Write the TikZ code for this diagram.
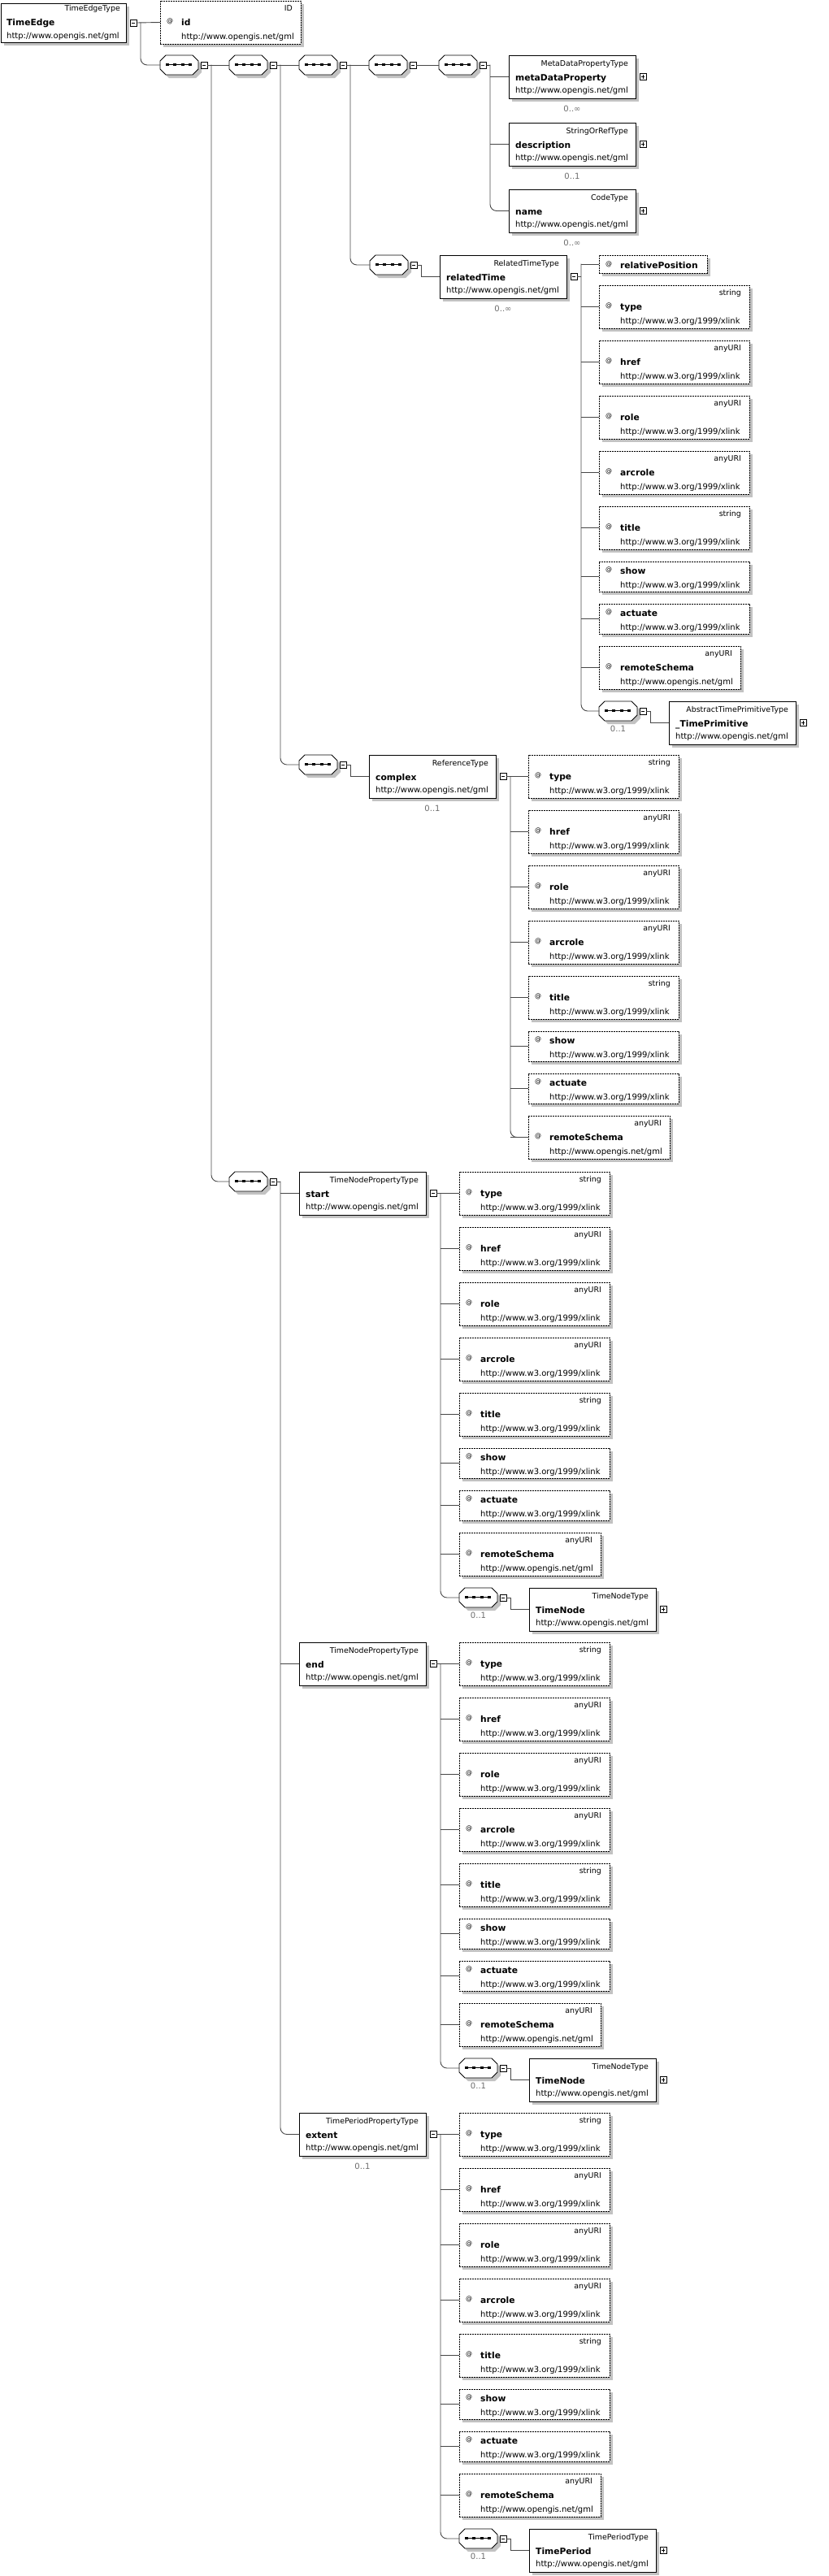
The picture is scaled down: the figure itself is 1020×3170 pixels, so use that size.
\documentclass[tikz,border=0pt]{standalone}
\usepackage{fontspec}
\setmainfont{DejaVu Sans}
\usetikzlibrary{shadows}
\definecolor{shd}{gray}{0.76}
\definecolor{lnc}{gray}{0.28}
\definecolor{mulc}{gray}{0.42}
\tikzset{
 boxbase/.style={draw=black, line width=0.9pt, fill=white, inner sep=0pt, outer sep=0pt,
   drop shadow={shadow xshift=4pt, shadow yshift=-4pt, fill=shd, opacity=1}},
 elshape/.style={boxbase, rectangle},
 atshape/.style={boxbase, rectangle, line width=1pt, dash pattern=on 1.7pt off 1.3pt},
 seqnode/.style={rectangle, inner sep=0pt, outer sep=0pt, minimum width=47pt, minimum height=24pt},
 pmbox/.style={draw=black, line width=0.7pt, fill=white, inner sep=0pt, outer sep=0pt, minimum size=8pt},
 conn/.style={draw=lnc, line width=0.9pt, line cap=rect},
 rc/.style={rounded corners=8pt},
 typetxt/.style={inner sep=0pt, font=\fontsize{9.4}{10}\selectfont},
 nametxt/.style={inner sep=0pt, font=\bfseries\fontsize{10.7}{12}\selectfont},
 urltxt/.style={inner sep=0pt, font=\fontsize{10}{11}\selectfont},
 attxt/.style={inner sep=0pt, font=\fontsize{8}{9}\selectfont},
 multxt/.style={inner sep=0pt, text=mulc, font=\fontsize{10}{11}\selectfont},
}
% element box: name, x, y, type, element name, url
\newcommand{\elbox}[6]{%
 \node[elshape, minimum width=156pt, minimum height=53pt, anchor=north west] (#1) at ({#2},{#3}) {};
 \path (#1.north east) ++(-9,13) node[typetxt, anchor=base east] (#1-t) {#4};
 \path (#1.north west) ++(8,31) node[nametxt, anchor=base west] (#1-n) {#5};
 \path (#1.north west) ++(8,46) node[urltxt, anchor=base west] (#1-u) {#6};
}
% attribute, three rows: name, x, y, width, type, attr name, url
\newcommand{\atc}[7]{%
 \node[atshape, minimum width=#4pt, minimum height=53pt, anchor=north west] (#1) at ({#2},{#3}) {};
 \path (#1.north east) ++(-10,12) node[typetxt, anchor=base east] (#1-t) {#5};
 \path (#1.north west) ++(8,27) node[attxt, anchor=base west] (#1-a) {@};
 \path (#1.north west) ++(26,30) node[nametxt, anchor=base west] (#1-n) {#6};
 \path (#1.north west) ++(26,47) node[urltxt, anchor=base west] (#1-u) {#7};
}
% attribute, two rows: name, x, y, width, attr name, url
\newcommand{\atb}[6]{%
 \node[atshape, minimum width=#4pt, minimum height=37pt, anchor=north west] (#1) at ({#2},{#3}) {};
 \path (#1.north west) ++(8,12) node[attxt, anchor=base west] (#1-a) {@};
 \path (#1.north west) ++(26,15) node[nametxt, anchor=base west] (#1-n) {#5};
 \path (#1.north west) ++(26,32) node[urltxt, anchor=base west] (#1-u) {#6};
}
% attribute, one row: name, x, y, width, attr name
\newcommand{\ata}[5]{%
 \node[atshape, minimum width=#4pt, minimum height=22pt, anchor=north west] (#1) at ({#2},{#3}) {};
 \path (#1.north west) ++(8,13) node[attxt, anchor=base west] (#1-a) {@};
 \path (#1.north west) ++(26,16) node[nametxt, anchor=base west] (#1-n) {#5};
}
% sequence compositor: name, x, y
\newcommand{\seqq}[3]{%
 \begin{scope}[shift={({#2},{#3})}]
 \fill[shd] (11,4)--(44,4)--(51,11)--(51,21)--(44,28)--(11,28)--(4,21)--(4,11)--cycle;
 \filldraw[fill=white, draw=black, line width=0.9pt] (7,0)--(40,0)--(47,7)--(47,17)--(40,24)--(7,24)--(0,17)--(0,7)--cycle;
 \draw[line width=0.9pt] (7,11.5)--(39,11.5);
 \foreach \q in {9,18,28,37} {\fill ({\q-1.8},9.7) rectangle ({\q+1.8},13.3);}
 \node[seqnode, anchor=north west] (#1) at (0,0) {};
 \end{scope}
}
% minus / plus boxes: name, owner, gap
\newcommand{\minusb}[3]{%
 \path (#2.east) ++(#3,0) node[pmbox, anchor=west] (#1) {};
 \draw[line width=0.8pt] ([xshift=1.8pt]#1.west) -- ([xshift=-1.8pt]#1.east);
 \coordinate (#1t) at ([xshift=5pt]#1.east);
}
\newcommand{\plusb}[3]{%
 \path (#2.east) ++(#3,0) node[pmbox, anchor=west] (#1) {};
 \draw[line width=0.8pt] ([xshift=1.8pt]#1.west) -- ([xshift=-1.8pt]#1.east);
 \draw[line width=0.8pt] ([yshift=1.8pt]#1.south) -- ([yshift=-1.8pt]#1.north);
}
% multiplicity label: name, owner, text, offset
\newcommand{\mult}[4]{%
 \node[multxt, anchor=base] (#1) at ([yshift=-#4pt]#2.south) {#3};
}
% xlink attribute group: prefix, x, y
\newcommand{\xlgroup}[3]{%
 \atc{#1type}{#2}{#3}{185}{string}{type}{http://www.w3.org/1999/xlink}
 \atc{#1href}{#2}{#3+68}{185}{anyURI}{href}{http://www.w3.org/1999/xlink}
 \atc{#1role}{#2}{#3+136}{185}{anyURI}{role}{http://www.w3.org/1999/xlink}
 \atc{#1arcrole}{#2}{#3+204}{185}{anyURI}{arcrole}{http://www.w3.org/1999/xlink}
 \atc{#1title}{#2}{#3+272}{185}{string}{title}{http://www.w3.org/1999/xlink}
 \atb{#1show}{#2}{#3+340}{185}{show}{http://www.w3.org/1999/xlink}
 \atb{#1actuate}{#2}{#3+392}{185}{actuate}{http://www.w3.org/1999/xlink}
 \atc{#1remoteSchema}{#2}{#3+444}{174}{anyURI}{remoteSchema}{http://www.opengis.net/gml}
}
\newcommand{\xlconn}[2]{%
 \foreach \s in {type,href,role,arcrole,title,show,actuate,remoteSchema} {\draw[conn] (#2 |- #1\s.west) -- (#1\s.west);}
}
\begin{document}
\begin{tikzpicture}[x=1pt,y=-1pt]
\useasboundingbox (0,0) rectangle (1020,3170);

% ---------- root ----------
\node[elshape, minimum width=154pt, minimum height=48pt, anchor=north west] (te) at (1,4) {};
\path (te.north east) ++(-7,9) node[typetxt, anchor=base east] (te-t) {TimeEdgeType};
\path (te.north west) ++(7,27) node[nametxt, anchor=base west] (te-n) {TimeEdge};
\path (te.north west) ++(7,43) node[urltxt, anchor=base west] (te-u) {http://www.opengis.net/gml};
\minusb{tem}{te}{5}
\atc{idat}{197}{1}{173}{ID}{id}{http://www.opengis.net/gml}

% ---------- sequence chain ----------
\seqq{seq1}{197}{68} \minusb{seq1m}{seq1}{3}
\seqq{seq2}{282}{68} \minusb{seq2m}{seq2}{3}
\seqq{seq3}{368}{68} \minusb{seq3m}{seq3}{3}
\seqq{seq4}{454}{68} \minusb{seq4m}{seq4}{3}
\seqq{seq5}{540}{68} \minusb{seq5m}{seq5}{3}

\elbox{mdp}{626}{68}{MetaDataPropertyType}{metaDataProperty}{http://www.opengis.net/gml} \plusb{mdpp}{mdp}{5}
\mult{mdpx}{mdp}{0..∞}{16}
\elbox{desc}{626}{151}{StringOrRefType}{description}{http://www.opengis.net/gml} \plusb{descp}{desc}{5}
\mult{descx}{desc}{0..1}{16}
\elbox{nm}{626}{233}{CodeType}{name}{http://www.opengis.net/gml} \plusb{nmp}{nm}{5}
\mult{nmx}{nm}{0..∞}{16}

% ---------- relatedTime ----------
\seqq{seqR}{455}{314} \minusb{seqRm}{seqR}{3}
\elbox{rt}{541}{314}{RelatedTimeType}{relatedTime}{http://www.opengis.net/gml} \minusb{rtm}{rt}{5}
\mult{rtx}{rt}{0..∞}{16}
\ata{rpos}{737}{314}{133}{relativePosition}
\xlgroup{rt}{737}{351}
\seqq{seqTP}{737}{863} \minusb{seqTPm}{seqTP}{3}
\mult{seqTPx}{seqTP}{0..1}{13.5}
\elbox{tp}{823}{863}{AbstractTimePrimitiveType}{\_TimePrimitive}{http://www.opengis.net/gml} \plusb{tpp}{tp}{5}

% ---------- complex ----------
\seqq{seqC}{368}{929} \minusb{seqCm}{seqC}{3}
\elbox{cx}{454}{929}{ReferenceType}{complex}{http://www.opengis.net/gml} \minusb{cxm}{cx}{5}
\mult{cxx}{cx}{0..1}{16}
\xlgroup{cx}{650}{929}

% ---------- start / end / extent ----------
\seqq{seqA}{282}{1442} \minusb{seqAm}{seqA}{3}

\elbox{st}{368}{1442}{TimeNodePropertyType}{start}{http://www.opengis.net/gml} \minusb{stm}{st}{5}
\xlgroup{st}{565}{1442}
\seqq{stseq}{565}{1954} \minusb{stseqm}{stseq}{3}
\mult{stseqx}{stseq}{0..1}{13.5}
\elbox{sttn}{651}{1954}{TimeNodeType}{TimeNode}{http://www.opengis.net/gml} \plusb{sttnp}{sttn}{5}

\elbox{en}{368}{2021}{TimeNodePropertyType}{end}{http://www.opengis.net/gml} \minusb{enm}{en}{5}
\xlgroup{en}{565}{2021}
\seqq{enseq}{565}{2533} \minusb{enseqm}{enseq}{3}
\mult{enseqx}{enseq}{0..1}{13.5}
\elbox{entn}{651}{2533}{TimeNodeType}{TimeNode}{http://www.opengis.net/gml} \plusb{entnp}{entn}{5}

\elbox{ex}{368}{2600}{TimePeriodPropertyType}{extent}{http://www.opengis.net/gml} \minusb{exm}{ex}{5}
\mult{exx}{ex}{0..1}{16}
\xlgroup{ex}{565}{2600}
\seqq{exseq}{565}{3112} \minusb{exseqm}{exseq}{3}
\mult{exseqx}{exseq}{0..1}{13.5}
\elbox{expd}{651}{3112}{TimePeriodType}{TimePeriod}{http://www.opengis.net/gml} \plusb{expdp}{expd}{5}

% ---------- connectors ----------
\draw[conn] (tem.east) -- (idat.west);
\draw[conn,rc] (temt) |- (seq1.west);

\draw[conn] (seq1m.east) -- (seq2.west);
\draw[conn,rc] (seq1mt) |- (seqA.west);

\draw[conn] (seq2m.east) -- (seq3.west);
\draw[conn,rc] (seq2mt) |- (seqC.west);

\draw[conn] (seq3m.east) -- (seq4.west);
\draw[conn,rc] (seq3mt) |- (seqR.west);

\draw[conn] (seq4m.east) -- (seq5.west);

\draw[conn] (seq5m.east) -- (seq5mt);
\draw[conn] (seq5mt |- mdp.west) -- (mdp.west);
\draw[conn] (seq5mt |- desc.west) -- (desc.west);
\draw[conn,rc] (seq5mt) |- (nm.west);

\draw[conn] (seqRm.east) -- (seqRmt) |- (rt.west);
\draw[conn] (rtm.east) -- (rtmt);
\draw[conn] (rtmt |- rpos.west) -- (rpos.west);
\xlconn{rt}{rtmt}
\draw[conn,rc] (rtmt |- rpos.west) |- (seqTP.west);
\draw[conn] (seqTPm.east) -- (seqTPmt) |- (tp.west);

\draw[conn] (seqCm.east) -- (seqCmt) |- (cx.west);
\draw[conn] (cxm.east) -- (cxtype.west);
\xlconn{cx}{cxmt}
\draw[conn,rc] (cxmt) |- (cxremoteSchema.west);

\draw[conn] (seqAm.east) -- (seqAmt);
\draw[conn] (seqAmt |- st.west) -- (st.west);
\draw[conn] (seqAmt |- en.west) -- (en.west);
\draw[conn,rc] (seqAmt) |- (ex.west);

\draw[conn] (stm.east) -- (sttype.west);
\xlconn{st}{stmt}
\draw[conn,rc] (stmt) |- (stseq.west);
\draw[conn] (stseqm.east) -- (stseqmt) |- (sttn.west);

\draw[conn] (enm.east) -- (entype.west);
\xlconn{en}{enmt}
\draw[conn,rc] (enmt) |- (enseq.west);
\draw[conn] (enseqm.east) -- (enseqmt) |- (entn.west);

\draw[conn] (exm.east) -- (extype.west);
\xlconn{ex}{exmt}
\draw[conn,rc] (exmt) |- (exseq.west);
\draw[conn] (exseqm.east) -- (exseqmt) |- (expd.west);

\end{tikzpicture}
\end{document}
